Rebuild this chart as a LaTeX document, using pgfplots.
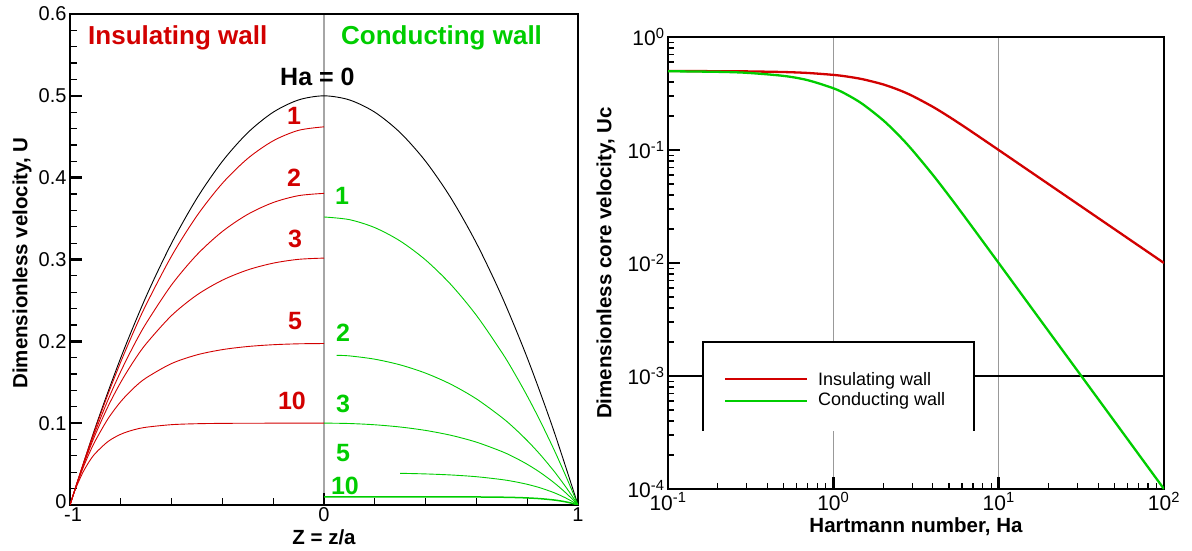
\documentclass[border=0pt]{standalone}
\usepackage{pgfplots}
\pgfplotsset{compat=1.18}
\usepackage{fontspec}
\setmainfont{Liberation Sans}
\definecolor{myred}{RGB}{210,0,0}
\definecolor{mygreen}{RGB}{0,205,0}
\begin{document}
\begin{tikzpicture}[x=1pt,y=1pt]
\path[use as bounding box] (0,0) rectangle (1192,551);

% ---------------- left axis ----------------
\begin{axis}[
  at={(70pt,46pt)}, anchor=south west, scale only axis,
  width=508pt, height=491pt,
  xmin=-1, xmax=1, ymin=0, ymax=0.6,
  axis line style={line width=2.6pt, line cap=rect},
  tick align=inside, tick pos=left,
  xtick={-1,0,1}, xticklabels={\hspace{6pt}-1,0,1},
  ytick={0,0.1,0.2,0.3,0.4,0.5,0.6},
  yticklabels={\raisebox{7pt}{0},0.1,0.2,0.3,0.4,0.5,0.6},
  minor xtick={-0.8,-0.6,-0.4,-0.2,0.2,0.4,0.6,0.8},
  minor ytick={0.02,0.04,0.06,0.08,0.12,0.14,0.16,0.18,0.22,0.24,0.26,0.28,0.32,0.34,0.36,0.38,0.42,0.44,0.46,0.48,0.52,0.54,0.56,0.58},
  major tick length=12pt, minor tick length=7pt,
  every major tick/.append style={line width=2.4pt, black},
  every minor tick/.append style={line width=1.2pt, black},
  ticklabel style={font=\fontsize{20}{20}\selectfont},
  xticklabel style={yshift=1pt},
  xmajorgrids, grid style={gray!70, line width=1.2pt},
]
\addplot[black, line width=0.9pt, smooth] coordinates {(-1,0) (-0.9,0.095) (-0.8,0.18) (-0.7,0.255) (-0.6,0.32) (-0.5,0.375) (-0.4,0.42) (-0.3,0.455) (-0.2,0.48) (-0.1,0.495) (0,0.5) (0.1,0.495) (0.2,0.48) (0.3,0.455) (0.4,0.42) (0.5,0.375) (0.6,0.32) (0.7,0.255) (0.8,0.18) (0.9,0.095) (1,0)};
% insulating wall (left half)
\addplot[myred, line width=0.9pt, smooth] coordinates {(-1,0) (-0.975,0.02459) (-0.95,0.04838) (-0.925,0.07137) (-0.9,0.0936) (-0.85,0.13576) (-0.8,0.17499) (-0.75,0.21137) (-0.7,0.24499) (-0.6,0.3043) (-0.5,0.35352) (-0.4,0.39313) (-0.3,0.42354) (-0.2,0.44504) (-0.1,0.45786) (0,0.46212)};
\addplot[myred, line width=0.9pt, smooth] coordinates {(-1,0) (-0.975,0.02436) (-0.95,0.04749) (-0.925,0.06944) (-0.9,0.09026) (-0.85,0.12874) (-0.8,0.16333) (-0.75,0.19435) (-0.7,0.22213) (-0.6,0.26904) (-0.5,0.30593) (-0.4,0.33428) (-0.3,0.35523) (-0.2,0.36962) (-0.1,0.37803) (0,0.3808)};
\addplot[myred, line width=0.9pt, smooth] coordinates {(-1,0) (-0.975,0.02408) (-0.95,0.04641) (-0.925,0.06712) (-0.9,0.08632) (-0.85,0.12062) (-0.8,0.15009) (-0.75,0.17539) (-0.7,0.1971) (-0.6,0.23159) (-0.5,0.25672) (-0.4,0.27474) (-0.3,0.28731) (-0.2,0.29554) (-0.1,0.30021) (0,0.30172)};
\addplot[myred, line width=0.9pt, smooth] coordinates {(-1,0) (-0.975,0.0235) (-0.95,0.04424) (-0.925,0.06254) (-0.9,0.07869) (-0.85,0.10555) (-0.8,0.12641) (-0.75,0.14268) (-0.7,0.15535) (-0.6,0.17288) (-0.5,0.18349) (-0.4,0.18988) (-0.3,0.19368) (-0.2,0.19586) (-0.1,0.19698) (0,0.19732)};
\addplot[myred, line width=0.9pt, smooth] coordinates {(-1,0) (-0.99,0.00952) (-0.975,0.02212) (-0.95,0.03935) (-0.925,0.05276) (-0.9,0.06321) (-0.85,0.07769) (-0.8,0.08647) (-0.75,0.09179) (-0.7,0.09502) (-0.6,0.09817) (-0.5,0.09933) (-0.4,0.09975) (-0.3,0.09991) (-0.2,0.09997) (-0.1,0.09999) (0,0.1)};
% conducting wall (right half)
\addplot[mygreen, line width=0.9pt, smooth] coordinates {(0,0.351946) (0.1,0.348704) (0.2,0.338942) (0.3,0.322565) (0.4,0.299408) (0.5,0.269238) (0.6,0.231755) (0.7,0.186583) (0.75,0.160976) (0.8,0.13327) (0.85,0.103397) (0.9,0.071283) (0.925,0.054357) (0.95,0.036845) (0.975,0.01873) (1,0)};
\addplot[mygreen, line width=0.9pt, smooth] coordinates {(0.05,0.18288) (0.1,0.182216) (0.2,0.178162) (0.3,0.171225) (0.4,0.161127) (0.5,0.147462) (0.6,0.129681) (0.7,0.107072) (0.75,0.093681) (0.8,0.078727) (0.85,0.062057) (0.9,0.043507) (0.925,0.033469) (0.95,0.02289) (0.975,0.011743) (1,0)};
\addplot[mygreen, line width=0.9pt, smooth] coordinates {(0,0.100075) (0.1,0.099574) (0.2,0.098028) (0.3,0.095295) (0.4,0.091128) (0.5,0.085149) (0.6,0.076816) (0.7,0.065373) (0.75,0.058174) (0.8,0.049782) (0.85,0.040008) (0.9,0.028631) (0.925,0.022264) (0.95,0.015395) (0.975,0.007988) (1,0)};
\addplot[mygreen, line width=0.9pt, smooth] coordinates {(0.3,0.038732) (0.4,0.037972) (0.5,0.036695) (0.6,0.034573) (0.7,0.031067) (0.75,0.028534) (0.8,0.025281) (0.85,0.021107) (0.9,0.015737) (0.925,0.012508) (0.95,0.008847) (0.975,0.0047) (1,0)};
\addplot[mygreen, line width=1.5pt, smooth] coordinates {(0,0.01) (0.1,0.01) (0.2,0.009997) (0.3,0.009991) (0.4,0.009975) (0.5,0.009933) (0.6,0.009817) (0.7,0.009502) (0.75,0.009179) (0.8,0.008647) (0.85,0.007769) (0.9,0.006321) (0.925,0.005276) (0.95,0.003935) (0.975,0.002212) (1,0)};
\end{axis}

% ---------------- right axis ----------------
\begin{axis}[
  at={(668pt,62pt)}, anchor=south west, scale only axis,
  width=496pt, height=452pt,
  xmode=log, ymode=log,
  xmin=0.1, xmax=100, ymin=1e-4, ymax=1,
  axis line style={line width=2.6pt, line cap=rect},
  tick align=inside, tick pos=left,
  xtick={0.1,1,10,100},
  xticklabels={10\textsuperscript{-1},10\textsuperscript{0},10\textsuperscript{1},10\textsuperscript{2}},
  ytick={1e-4,1e-3,1e-2,1e-1,1},
  yticklabels={10\textsuperscript{-4},10\textsuperscript{-3},10\textsuperscript{-2},10\textsuperscript{-1},10\textsuperscript{0}},
  minor xtick={0.2,0.3,0.4,0.5,0.6,0.7,0.8,0.9,2,3,4,5,6,7,8,9,20,30,40,50,60,70,80,90},
  minor ytick={2e-4,3e-4,4e-4,5e-4,6e-4,7e-4,8e-4,9e-4,2e-3,3e-3,4e-3,5e-3,6e-3,7e-3,8e-3,9e-3,2e-2,3e-2,4e-2,5e-2,6e-2,7e-2,8e-2,9e-2,0.2,0.3,0.4,0.5,0.6,0.7,0.8,0.9},
  major tick length=12pt, minor tick length=6pt,
  every major tick/.append style={line width=2.4pt, black},
  every minor tick/.append style={line width=1.2pt, black},
  ticklabel style={font=\fontsize{21}{21}\selectfont},
  xmajorgrids, grid style={gray!80, line width=1.2pt},
]
\draw[black, line width=1.6pt] (axis cs:0.1,1e-3) -- (axis cs:100,1e-3);
\addplot[myred, line width=2.3pt, smooth] coordinates {(0.1,0.49958) (0.2,0.49834) (0.3,0.49628) (0.5,0.48984) (0.7,0.48054) (1,0.46212) (1.2,0.44754) (1.5,0.42343) (2,0.3808) (2.5,0.33931) (3,0.30172) (4,0.24101) (5,0.19732) (6,0.16584) (7,0.1426) (10,0.099991) (15,0.066667) (20,0.05) (30,0.033333) (50,0.02) (70,0.0142857) (100,0.01)};
\addplot[mygreen, line width=2.3pt, smooth] coordinates {(0.1,0.49792) (0.2,0.4918) (0.3,0.48194) (0.5,0.45272) (0.7,0.41489) (1,0.351946) (1.2,0.31091) (1.5,0.25551) (2,0.18355) (2.5,0.13391) (3,0.100075) (4,0.060211) (5,0.039461) (6,0.02764) (7,0.020371) (10,0.0099991) (15,0.0044444) (20,0.0025) (30,0.0011111) (50,0.0004) (70,0.00020408) (100,0.0001)};
\end{axis}

% legend (open-bottom box)
\fill[white] (703,120) rectangle (974,209);
\draw[black, line width=1.3pt] (703,120) -- (703,209) -- (974,209) -- (974,120);
\draw[myred, line width=2.3pt] (725,172) -- (807,172);
\draw[mygreen, line width=2.3pt] (725,150) -- (807,150);
\node[anchor=base west, inner sep=0, font=\fontsize{18}{18}\selectfont] at (818,165) {Insulating wall};
\node[anchor=base west, inner sep=0, font=\fontsize{18}{18}\selectfont] at (818,145) {Conducting wall};

% titles and curve labels
\node[anchor=base west, inner sep=0, text=myred, font=\bfseries\fontsize{26}{26}\selectfont] at (88,506) {Insulating wall};
\node[anchor=base west, inner sep=0, text=mygreen, font=\bfseries\fontsize{26}{26}\selectfont] at (341,506) {Conducting wall};
\node[anchor=base west, inner sep=0, font=\bfseries\fontsize{25}{25}\selectfont] at (280,465) {Ha = 0};

\begin{scope}[every node/.style={anchor=base, inner sep=0, font=\bfseries\fontsize{25}{25}\selectfont}]
\node[text=myred] at (294,426) {1};
\node[text=myred] at (294,364) {2};
\node[text=myred] at (295,303) {3};
\node[text=myred] at (295,221) {5};
\node[text=myred] at (292,141) {10};
\node[text=mygreen] at (342,346) {1};
\node[text=mygreen] at (343,209) {2};
\node[text=mygreen] at (343,138) {3};
\node[text=mygreen] at (343,89) {5};
\node[text=mygreen] at (345,56) {10};
\end{scope}

% axis labels
\node[rotate=90, inner sep=0, font=\bfseries\fontsize{20.5}{20.5}\selectfont] at (22,288) {Dimensionless velocity, U};
\node[rotate=90, inner sep=0, font=\bfseries\fontsize{20.5}{20.5}\selectfont] at (606,288) {Dimensionless core velocity, Uc};
\node[anchor=base, inner sep=0, font=\bfseries\fontsize{20.5}{20.5}\selectfont] at (324,6) {Z = z/a};
\node[anchor=base, inner sep=0, font=\bfseries\fontsize{20.5}{20.5}\selectfont] at (916,18) {Hartmann number, Ha};
\end{tikzpicture}
\end{document}
